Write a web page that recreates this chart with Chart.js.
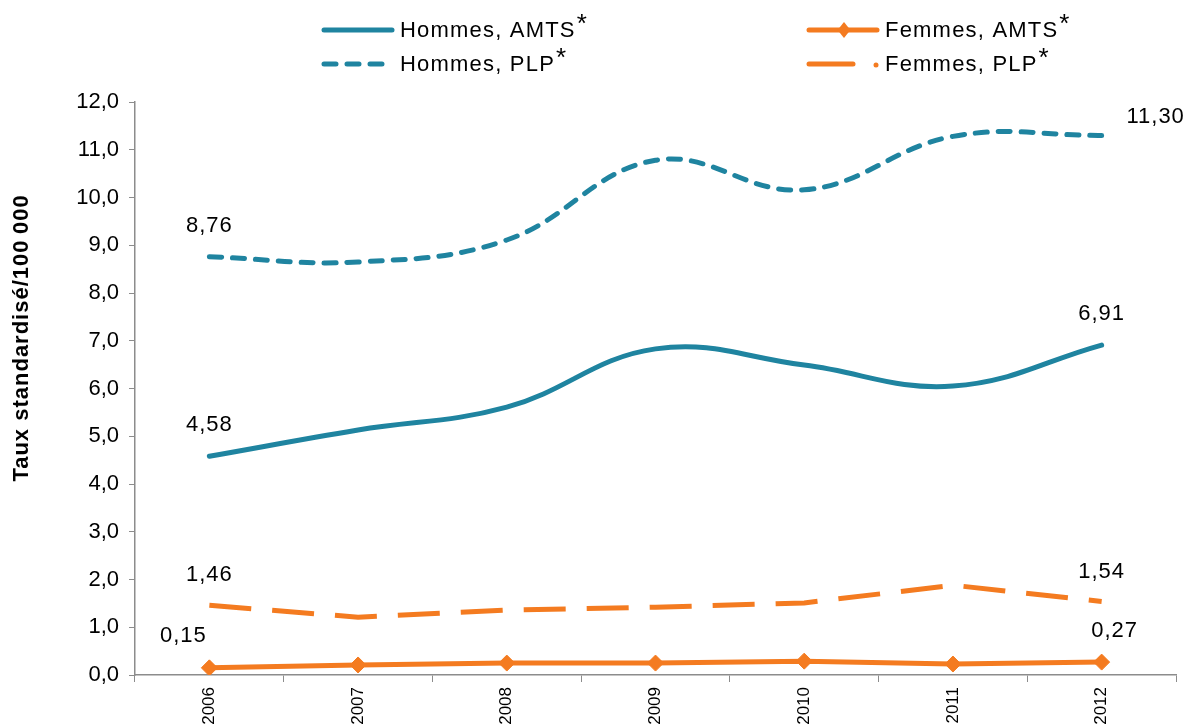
<!DOCTYPE html>
<html><head><meta charset="utf-8">
<script src="https://cdn.jsdelivr.net/npm/chart.js@4"></script>
<style>html,body{margin:0;padding:0;overflow:hidden;background:#fff}</style>
</head><body>
<canvas id="c" width="1185" height="726"></canvas>
<script>
// ---- data ----
const categories = ['2006','2007','2008','2009','2010','2011','2012'];
const hommesAMTS = [4.58, 5.13, 5.61, 6.83, 6.49, 6.05, 6.91];
const hommesPLP  = [8.76, 8.65, 9.11, 10.78, 10.16, 11.28, 11.30];
const femmesAMTS = [0.15, 0.21, 0.25, 0.25, 0.29, 0.23, 0.27];
const femmesPLP  = [1.46, 1.21, 1.36, 1.42, 1.51, 1.88, 1.54];
const seriesNames = ['Hommes, AMTS', 'Hommes, PLP', 'Femmes, AMTS', 'Femmes, PLP'];
const yTickMin = 0, yTickMax = 12, yTickStep = 1;
const yAxisTitle = 'Taux standardisé/100\u202F000';

// ---- style ----
const TEAL = '#1f84a0';
const ORANGE = '#f47b20';
const FONT = '"Liberation Sans", Arial, sans-serif';
const fmt = (v, d) => v.toFixed(d).replace('.', ',');

// label offsets [first, last] for each dataset (dx, dy)
const labelOffsets = [
  [[0, -31], [0, -31]],
  [[0, -31], [54, -18]],
  [[-26, -32], [13, -31]],
  [[0, -30], [0, -30]]
];

const spacingPlugin = {
  id: 'spacing',
  beforeInit(chart) { chart.ctx.letterSpacing = '1px'; }
};

const labelsPlugin = {
  id: 'endLabels',
  afterDatasetsDraw(chart) {
    const ctx = chart.ctx;
    ctx.save();
    ctx.letterSpacing = '1px';
    ctx.font = '22px ' + FONT;
    ctx.fillStyle = '#000';
    ctx.textAlign = 'center';
    ctx.textBaseline = 'middle';
    chart.data.datasets.forEach((ds, di) => {
      const meta = chart.getDatasetMeta(di);
      const idxs = [0, ds.data.length - 1];
      idxs.forEach((i, k) => {
        const pt = meta.data[i];
        const off = labelOffsets[di][k];
        ctx.fillText(fmt(ds.data[i], 2), pt.x + off[0], pt.y + off[1]);
      });
    });
    // axis title
    ctx.save();
    ctx.translate(22, 338);
    ctx.rotate(-Math.PI / 2);
    ctx.font = 'bold 22px ' + FONT;
    ctx.letterSpacing = '1px';
    ctx.fillText(yAxisTitle, 0, 0);
    ctx.restore();
    ctx.restore();
  }
};

const legendPlugin = {
  id: 'customLegend',
  afterDraw(chart) {
    const ctx = chart.ctx;
    const items = [
      {x: 322, y: 30, color: TEAL, dash: [], marker: false, name: seriesNames[0]},
      {x: 322, y: 64, color: TEAL, dash: [12, 11], marker: false, name: seriesNames[1]},
      {x: 807, y: 30, color: ORANGE, dash: [], marker: true, name: seriesNames[2]},
      {x: 807, y: 64, color: ORANGE, dash: [44, 24], marker: false, name: seriesNames[3], dot: true}
    ];
    ctx.save();
    items.forEach(it => {
      const len = 72;
      ctx.strokeStyle = it.color;
      ctx.lineWidth = 5;
      ctx.lineCap = 'round';
      ctx.setLineDash(it.dash);
      ctx.beginPath();
      ctx.moveTo(it.x + 2, it.y);
      ctx.lineTo(it.x + len - 2, it.y);
      ctx.stroke();
      ctx.setLineDash([]);
      if (it.dot) {
        ctx.fillStyle = it.color;
        ctx.beginPath();
        ctx.arc(it.x + 69, it.y + 1, 2.5, 0, Math.PI * 2);
        ctx.fill();
      }
      if (it.marker) {
        const cx = it.x + 37, cy = it.y, r = 8;
        ctx.fillStyle = it.color;
        ctx.beginPath();
        ctx.moveTo(cx, cy - r); ctx.lineTo(cx + r * 0.8, cy);
        ctx.lineTo(cx, cy + r); ctx.lineTo(cx - r * 0.8, cy);
        ctx.closePath(); ctx.fill();
      }
      ctx.fillStyle = '#000';
      ctx.font = '22px ' + FONT;
      ctx.letterSpacing = '1.2px';
      ctx.textAlign = 'left';
      ctx.textBaseline = 'middle';
      const tx = it.x + len + 6;
      ctx.fillText(it.name, tx, it.y + 1);
      const w = ctx.measureText(it.name).width;
      ctx.font = '26px ' + FONT;
      ctx.fillText('*', tx + w + 1, it.y - 5);
    });
    ctx.restore();
  }
};

new Chart(document.getElementById('c'), {
  type: 'line',
  data: {
    labels: categories,
    datasets: [
      {label: seriesNames[0], data: hommesAMTS, borderColor: TEAL, borderWidth: 5, tension: 0.4,
       pointRadius: 0, borderCapStyle: 'round'},
      {label: seriesNames[1], data: hommesPLP, borderColor: TEAL, borderWidth: 5, tension: 0.4,
       pointRadius: 0, borderDash: [12, 11], borderCapStyle: 'round'},
      {label: seriesNames[2], data: femmesAMTS, borderColor: ORANGE, borderWidth: 5, tension: 0,
       pointStyle: 'rectRot', pointRadius: 8, pointBackgroundColor: ORANGE, pointBorderColor: ORANGE, pointBorderWidth: 1},
      {label: seriesNames[3], data: femmesPLP, borderColor: ORANGE, borderWidth: 5, tension: 0,
       pointRadius: 0, borderDash: [42, 21], borderCapStyle: 'butt'}
    ]
  },
  options: {
    responsive: false,
    animation: false,
    devicePixelRatio: 1,
    layout: {padding: {top: 102, right: 9, left: 0, bottom: 0}},
    plugins: {legend: {display: false}, tooltip: {enabled: false}},
    scales: {
      x: {
        offset: true,
        grid: {offset: true, drawOnChartArea: false, drawTicks: true, tickLength: 7, color: '#8c8c8c', lineWidth: 1},
        border: {color: '#8c8c8c', width: 1.5},
        ticks: {color: '#000', font: {size: 17, family: FONT}, maxRotation: 90, minRotation: 90, padding: 5},
        afterFit: s => { s.height = 51; }
      },
      y: {
        min: yTickMin, max: yTickMax,
        grid: {drawOnChartArea: false, drawTicks: true, tickLength: 6, color: '#8c8c8c', lineWidth: 1},
        border: {color: '#8c8c8c', width: 1.5},
        ticks: {stepSize: yTickStep, color: '#000', font: {size: 22, family: FONT}, padding: 10,
                callback: v => fmt(v, 1)},
        afterFit: s => { s.width = 135; }
      }
    }
  },
  plugins: [spacingPlugin, labelsPlugin, legendPlugin]
});
</script>
</body></html>
